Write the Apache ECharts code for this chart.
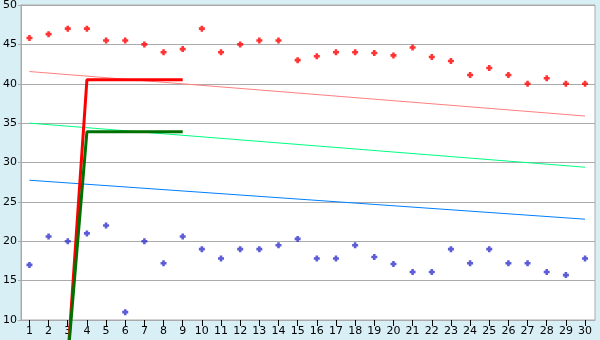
<!DOCTYPE html>
<html>
<head>
<meta charset="utf-8">
<script src="https://cdn.jsdelivr.net/npm/echarts@6/dist/echarts.min.js"></script>
<style>
html,body{margin:0;padding:0;background:#d9eff6;}
#c{width:600px;height:340px;}
</style>
</head>
<body>
<div id="c"></div>
<script>
var xValues = [1,2,3,4,5,6,7,8,9,10,11,12,13,14,15,16,17,18,19,20,21,22,23,24,25,26,27,28,29,30];
var redPoints = [45.8,46.3,47,47,45.5,45.5,45,44,44.4,47,44,45,45.5,45.5,43,43.5,44,44,43.9,43.6,44.6,43.4,42.9,41.1,42,41.1,40,40.7,40,40];
var bluePoints = [17,20.6,20,21,22,11,20,17.2,20.6,19,17.8,19,19,19.5,20.3,17.8,17.8,19.5,18,17.1,16.1,16.1,19,17.2,19,17.2,17.2,16.1,15.7,17.8];
var salmonTrend = [[1,41.55],[30,35.9]];
var lightGreenTrend = [[1,35.0],[30,29.4]];
var blueTrend = [[1,27.75],[30,22.8]];
var redStep = [[3,5],[4,40.5],[9,40.5]];
var greenStep = [[3,5],[4,33.9],[9,33.9]];
var yTicks = {min:10,max:50,interval:5};

var chart = echarts.init(document.getElementById('c'), null, {renderer:'canvas'});
var plus = 'path://M2,0H5V2H7V5H5V7H2V5H0V2H2Z';
function pts(arr){ return arr.map(function(v,i){ return [xValues[i], v]; }); }
var font = {fontFamily:'DejaVu Sans', fontSize:11, color:'#000'};
chart.setOption({
  animation:false,
  backgroundColor:'#d9eff6',
  grid:{left:21,right:5,top:5,bottom:20,containLabel:false,outerBoundsMode:'none',show:true,backgroundColor:'#fff',borderColor:'#aaa',borderWidth:1},
  xAxis:{type:'value',min:0.56,max:30.52,
    axisLine:{show:true,lineStyle:{color:'#aaa'}},
    axisTick:{show:true,length:6,lineStyle:{color:'#000'},customValues:xValues},
    axisLabel:Object.assign({customValues:xValues,margin:6},font),
    splitLine:{show:false}},
  yAxis:{type:'value',min:yTicks.min,max:yTicks.max,interval:yTicks.interval,
    axisLine:{show:true,lineStyle:{color:'#aaa'}},
    axisTick:{show:true,length:3,lineStyle:{color:'#aaa'}},
    axisLabel:Object.assign({margin:4},font),
    splitLine:{show:true,lineStyle:{color:'#aaa',width:1}}},
  series:[
    {type:'line',data:salmonTrend,symbol:'none',lineStyle:{color:'#ff8080',width:1},z:2},
    {type:'line',data:lightGreenTrend,symbol:'none',lineStyle:{color:'#00ff80',width:1},z:2},
    {type:'line',data:blueTrend,symbol:'none',lineStyle:{color:'#0080ff',width:1},z:2},
    {type:'line',data:redStep,symbol:'none',clip:false,lineStyle:{color:'#ff0000',width:3},z:4},
    {type:'line',data:greenStep,symbol:'none',clip:false,lineStyle:{color:'#007000',width:3},z:5},
    {type:'scatter',data:pts(redPoints),symbol:plus,symbolSize:6,itemStyle:{color:'#ff0000'},z:6},
    {type:'scatter',data:pts(bluePoints),symbol:plus,symbolSize:6,itemStyle:{color:'#3333cc'},z:6}
  ]
});
</script>
</body>
</html>
